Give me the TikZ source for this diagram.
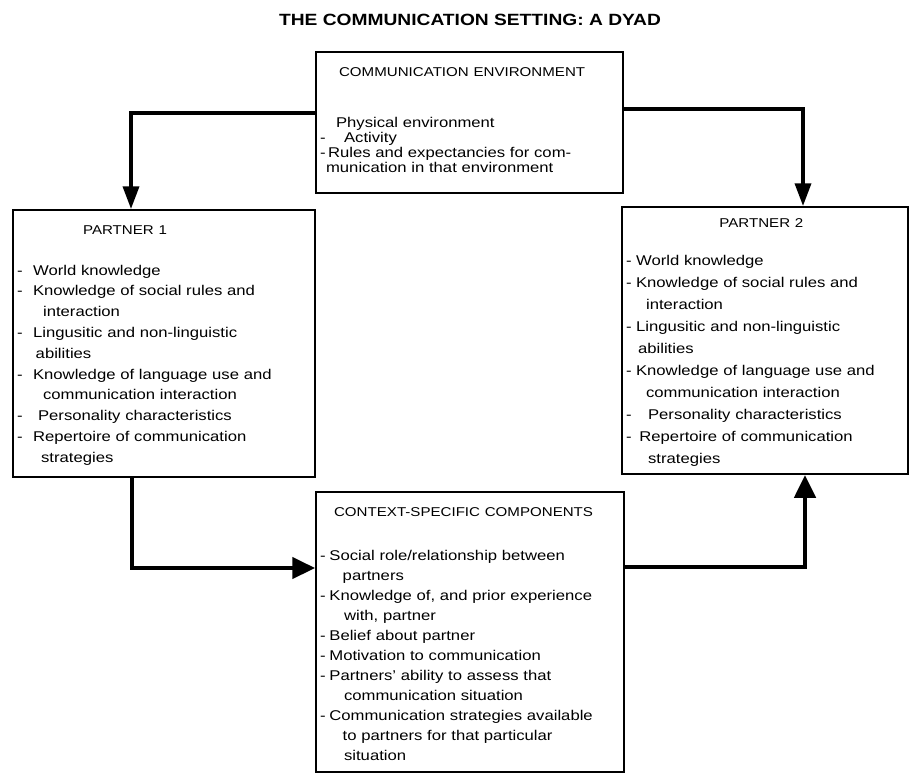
\documentclass[tikz,border=0pt]{standalone}
\usepackage{fontspec}
\setmainfont{Liberation Sans}[FakeStretch=1.18]
\usepackage{tikz}
\usetikzlibrary{arrows.meta, calc, positioning}

\newcommand{\itm}[1][12pt]{\makebox[#1][l]{-}}
\newcommand{\cnt}[1][19.5pt]{\hspace*{#1}}
\newcommand{\hdfont}{\fontsize{9.6}{11}\selectfont}

\tikzset{
  box/.style={draw, line width=1.6pt, anchor=north west, inner xsep=3pt, inner ysep=0pt, align=left},
  flow/.style={line width=2.6pt, -{Triangle[width=12pt,length=17pt]}},
  flowbig/.style={line width=2.6pt, -{Triangle[width=16pt,length=17pt]}}
}

\begin{document}
\begin{tikzpicture}[x=0.75pt, y=-0.75pt]
  \useasboundingbox (0,0) rectangle (917,772);

  \node[anchor=base, font={\bfseries\fontsize{12.2}{14}\selectfont}] (title) at (470,25)
    {THE COMMUNICATION SETTING: A DYAD};

  \node[box, text width=224.25pt, text height=18pt, text depth=87.75pt,
        font={\fontsize{10.6}{11.4}\selectfont}] (env) at (315,51) {%
    \hspace*{14.25pt}{\hdfont COMMUNICATION ENVIRONMENT}\\[27pt]
    \hspace*{12pt}Physical environment\\
    \itm[18pt]Activity\\
    \itm[6pt]Rules and expectancies for com-\\
    \cnt[4.5pt]munication in that environment};

  \node[box, text width=220.5pt, text height=18pt, text depth=182.25pt,
        font={\fontsize{10.6}{15.6}\selectfont}] (p1) at (12,209) {%
    \hspace*{49.5pt}{\hdfont PARTNER 1}\\[15.2pt]
    \itm World knowledge\\
    \itm Knowledge of social rules and\\
    \cnt interaction\\
    \itm Lingusitic and non-linguistic\\
    \cnt[14pt]abilities\\
    \itm Knowledge of language use and\\
    \cnt communication interaction\\
    \itm[15.75pt]Personality characteristics\\
    \itm Repertoire of communication\\
    \cnt[18pt]strategies};

  \node[box, text width=208.5pt, text height=15pt, text depth=185.25pt,
        font={\fontsize{10.6}{16.5}\selectfont}] (p2) at (621,206) {%
    \hspace*{70pt}{\hdfont PARTNER 2}\\[12pt]
    \itm[7.5pt]World knowledge\\
    \itm[7.5pt]Knowledge of social rules and\\
    \cnt[15pt]interaction\\
    \itm[7.5pt]Lingusitic and non-linguistic\\
    \cnt[9pt]abilities\\
    \itm[7.5pt]Knowledge of language use and\\
    \cnt[15pt]communication interaction\\
    \itm[16.5pt]Personality characteristics\\
    \itm[10pt]Repertoire of communication\\
    \cnt[16.5pt]strategies};

  \node[box, text width=225pt, text height=18pt, text depth=192pt,
        font={\fontsize{10.6}{15}\selectfont}] (ctx) at (315,491) {%
    \hspace*{10.5pt}{\hdfont CONTEXT-SPECIFIC COMPONENTS}\\[18pt]
    \itm[7pt]Social role/relationship between\\
    \cnt[17pt]partners\\
    \itm[7pt]Knowledge of, and prior experience\\
    \cnt[18pt]with, partner\\
    \itm[7pt]Belief about partner\\
    \itm[7pt]Motivation to communication\\
    \itm[7pt]Partners' ability to assess that\\
    \cnt[18pt]communication situation\\
    \itm[7pt]Communication strategies available\\
    \cnt[17pt]to partners for that particular\\
    \cnt[18pt]situation};

  \draw[flow] ($(env.north west)+(0,62)$) -| ($(p1.north west)+(119,0)$);
  \draw[flow] ($(env.north east)+(0,58)$) -| ($(p2.north west)+(182,0)$);
  \draw[flowbig] ($(p1.south west)+(120,0)$) |- ($(ctx.north west)+(0,77)$);
  \draw[flowbig] ($(ctx.north east)+(0,76)$) -| ($(p2.south west)+(184,0)$);
\end{tikzpicture}
\end{document}
